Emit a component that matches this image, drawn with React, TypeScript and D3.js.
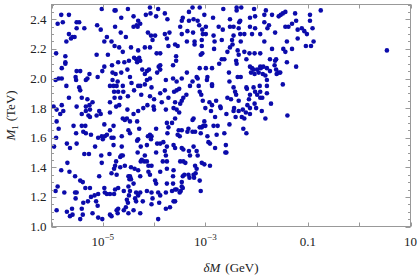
import * as d3 from 'd3';

// scan points: [log10(δM / GeV), M1 / TeV]
const scanLowDM: [number, number][] = [
  [-5.02, 2.47], [-4.77, 2.46], [-4.75, 2.46], [-4.51, 2.47], [-4.08, 2.48], [-3.92, 2.47], [-3.79, 2.44], [-5.81, 2.43], [-5.66, 2.43], [-4.64, 2.41],
  [-4.40, 2.42], [-4.16, 2.43], [-4.07, 2.44], [-3.96, 2.42], [-5.88, 2.37], [-5.78, 2.38], [-5.51, 2.38], [-5.46, 2.38], [-5.11, 2.36], [-5.04, 2.33],
  [-5.51, 2.34], [-5.36, 2.34], [-4.76, 2.35], [-4.65, 2.31], [-4.40, 2.35], [-4.31, 2.39], [-4.27, 2.37], [-4.34, 2.36], [-4.32, 2.35], [-3.74, 2.40],
  [-5.66, 2.30], [-5.55, 2.28], [-5.62, 2.27], [-5.59, 2.28], [-5.71, 2.25], [-4.92, 2.28], [-4.97, 2.25], [-4.83, 2.25], [-4.55, 2.28], [-4.12, 2.31],
  [-4.06, 2.29], [-3.98, 2.29], [-4.03, 2.26], [-3.79, 2.30], [-3.70, 2.31], [-3.75, 2.27], [-4.77, 2.22], [-4.68, 2.21], [-4.45, 2.21], [-4.61, 2.18],
  [-4.31, 2.19], [-4.18, 2.21], [-4.08, 2.21], [-3.72, 2.22], [-5.91, 2.17], [-5.73, 2.15], [-5.12, 2.16], [-4.90, 2.16], [-4.39, 2.14], [-4.35, 2.13],
  [-4.29, 2.14], [-4.27, 2.12], [-4.33, 2.11], [-3.95, 2.17], [-3.88, 2.17], [-4.49, 2.12], [-4.58, 2.11], [-4.70, 2.11], [-5.73, 2.11], [-5.73, 2.10],
  [-4.82, 2.09], [-5.80, 2.07], [-4.97, 2.08], [-3.91, 2.08], [-3.88, 2.09], [-3.88, 2.06], [-3.94, 2.04], [-4.52, 2.06], [-4.23, 2.06], [-4.14, 2.05],
  [-4.10, 2.06], [-4.18, 2.03], [-5.51, 2.05], [-5.44, 2.05], [-5.01, 2.05], [-5.26, 2.03], [-5.10, 2.01], [-4.81, 2.04], [-4.75, 2.03], [-4.64, 2.04],
  [-5.86, 2.00], [-5.80, 2.00], [-5.92, 1.99], [-5.53, 2.01], [-5.52, 1.99], [-5.33, 1.99], [-5.30, 2.00], [-4.81, 1.99], [-4.71, 1.98], [-4.47, 2.01],
  [-4.44, 1.97], [-4.14, 1.99], [-4.08, 2.00], [-3.77, 1.99], [-5.71, 1.95], [-5.46, 1.94], [-5.44, 1.92], [-4.86, 1.95], [-4.79, 1.95], [-4.73, 1.95],
  [-4.61, 1.95], [-4.31, 1.95], [-4.27, 1.95], [-4.39, 1.92], [-4.18, 1.96], [-4.78, 1.91], [-4.70, 1.91], [-4.60, 1.91], [-4.05, 1.94], [-3.79, 1.92],
  [-3.88, 1.90], [-5.66, 1.87], [-5.41, 1.87], [-5.30, 1.86], [-4.77, 1.87], [-4.66, 1.87], [-4.51, 1.88], [-4.25, 1.89], [-4.08, 1.88], [-4.00, 1.86],
  [-3.72, 1.87], [-5.51, 1.81], [-5.33, 1.81], [-5.20, 1.84], [-5.26, 1.82], [-4.74, 1.81], [-4.68, 1.82], [-4.86, 1.84], [-4.13, 1.82], [-3.85, 1.84],
  [-5.96, 1.81], [-5.80, 1.82], [-5.90, 1.79], [-5.77, 1.78], [-5.33, 1.78], [-5.25, 1.79], [-5.07, 1.78], [-4.52, 1.79], [-4.40, 1.76], [-4.31, 1.78],
  [-4.21, 1.80], [-4.01, 1.81], [-4.00, 1.79], [-3.77, 1.79], [-4.86, 1.77], [-5.83, 1.76],
  [-5.41, 1.76], [-5.28, 1.75], [-5.25, 1.74], [-5.12, 1.75], [-5.04, 1.76], [-4.61, 1.73], [-4.57, 1.72], [-4.53, 1.73], [-4.47, 1.71], [-5.90, 1.71],
  [-5.86, 1.66], [-5.57, 1.68], [-5.41, 1.68], [-5.34, 1.68], [-5.38, 1.64], [-5.33, 1.63], [-5.52, 1.63], [-5.23, 1.62], [-4.97, 1.69], [-4.79, 1.68],
  [-4.86, 1.65], [-5.09, 1.60], [-5.02, 1.61], [-5.00, 1.59], [-4.96, 1.61], [-4.92, 1.62], [-4.83, 1.60], [-4.79, 1.60], [-4.63, 1.61], [-4.33, 1.71],
  [-4.29, 1.66], [-4.50, 1.65], [-4.47, 1.63], [-4.31, 1.59], [-4.33, 1.58], [-4.08, 1.62], [-4.12, 1.61], [-4.05, 1.61], [-4.06, 1.59], [-3.96, 1.66],
  [-3.75, 1.70], [-3.72, 1.67], [-3.74, 1.63], [-5.91, 1.60], [-5.95, 1.54], [-5.70, 1.56], [-5.64, 1.53], [-5.51, 1.56], [-5.15, 1.54], [-4.79, 1.55],
  [-4.63, 1.54], [-4.26, 1.54], [-4.14, 1.55], [-3.94, 1.56], [-3.88, 1.56], [-3.82, 1.57], [-3.75, 1.54], [-3.79, 1.51], [-3.77, 1.48], [-3.75, 1.44],
  [-5.36, 1.49], [-5.27, 1.49], [-5.03, 1.48], [-4.87, 1.49], [-4.66, 1.47], [-4.64, 1.48], [-4.61, 1.48], [-4.32, 1.50], [-4.18, 1.48], [-3.96, 1.50],
  [-5.69, 1.43], [-5.02, 1.43], [-4.74, 1.44], [-4.76, 1.41], [-4.78, 1.39], [-4.57, 1.41], [-4.66, 1.40], [-4.45, 1.40], [-4.38, 1.39], [-4.24, 1.45],
  [-4.19, 1.44], [-4.14, 1.44], [-4.26, 1.44], [-4.11, 1.41], [-4.05, 1.41], [-3.83, 1.44], [-5.81, 1.38], [-5.65, 1.37], [-5.54, 1.34], [-5.44, 1.31],
  [-5.39, 1.30], [-5.07, 1.34], [-4.83, 1.36], [-4.73, 1.35], [-4.50, 1.34], [-4.47, 1.34], [-4.48, 1.32], [-4.45, 1.32], [-4.31, 1.38], [-4.27, 1.34],
  [-4.11, 1.37], [-4.08, 1.35], [-3.88, 1.37], [-3.75, 1.39], [-3.98, 1.31], [-3.96, 1.29], [-3.75, 1.29], [-3.77, 1.23], [-5.88, 1.27], [-5.92, 1.24],
  [-5.75, 1.23], [-5.54, 1.23], [-5.51, 1.23], [-5.34, 1.26], [-5.25, 1.26], [-5.53, 1.19], [-5.38, 1.16], [-5.23, 1.20], [-5.16, 1.21], [-5.13, 1.17],
  [-5.09, 1.22], [-4.97, 1.26], [-4.96, 1.23], [-4.92, 1.22], [-4.86, 1.22], [-4.78, 1.22], [-4.76, 1.25], [-4.70, 1.26], [-4.59, 1.24], [-4.50, 1.27],
  [-4.47, 1.24], [-4.49, 1.21], [-4.40, 1.29], [-4.35, 1.23], [-4.27, 1.23], [-4.14, 1.24], [-4.05, 1.23], [-3.92, 1.23], [-3.88, 1.21], [-5.29, 1.17],
  [-5.10, 1.14], [-4.53, 1.18], [-4.51, 1.16], [-4.37, 1.19], [-4.35, 1.17], [-4.31, 1.21], [-4.22, 1.17], [-4.03, 1.19], [-3.90, 1.16], [-5.90, 1.11],
  [-5.70, 1.10], [-5.60, 1.12], [-5.41, 1.12], [-5.39, 1.08], [-5.44, 1.05], [-5.59, 1.08], [-5.64, 1.07], [-5.20, 1.09], [-5.09, 1.06], [-5.01, 1.05],
  [-4.86, 1.08], [-4.83, 1.07], [-4.73, 1.11], [-4.70, 1.12], [-4.71, 1.09], [-4.59, 1.11], [-4.55, 1.13], [-4.50, 1.09], [-4.40, 1.11], [-4.27, 1.09],
  [-4.05, 1.15], [-3.92, 1.05], [-3.77, 1.12],
];

const scanHighDM: [number, number][] = [
  [-3.25, 2.48], [-3.11, 2.48], [-2.65, 2.47], [-2.39, 2.48], [-2.30, 2.48], [-2.39, 2.46], [-2.05, 2.47], [-1.82, 2.46], [-1.85, 2.43], [-1.70, 2.43],
  [-1.57, 2.42], [-1.53, 2.43], [-1.49, 2.44], [-1.44, 2.45], [-3.32, 2.45], [-3.44, 2.41], [-3.46, 2.39], [-3.02, 2.43], [-2.85, 2.41], [-2.52, 2.40],
  [-2.34, 2.38], [-2.32, 2.39], [-2.13, 2.41], [-2.03, 2.42], [-1.85, 2.38], [-1.76, 2.36], [-1.38, 2.35], [-1.44, 2.35], [-3.49, 2.35], [-3.32, 2.39],
  [-3.23, 2.40], [-3.15, 2.39], [-3.12, 2.36], [-2.99, 2.35], [-3.06, 2.33], [-2.74, 2.35], [-2.52, 2.35], [-2.45, 2.35], [-2.66, 2.33], [-2.35, 2.34],
  [-2.32, 2.30], [-2.13, 2.35], [-2.09, 2.30], [-1.93, 2.30], [-2.03, 2.34], [-1.64, 2.31], [-1.79, 2.34], [-3.46, 2.30], [-3.35, 2.32], [-3.24, 2.31],
  [-3.05, 2.30], [-2.99, 2.30], [-2.84, 2.29], [-2.45, 2.29], [-2.24, 2.30], [-3.36, 2.25], [-3.21, 2.25], [-3.21, 2.23], [-3.07, 2.26], [-2.68, 2.26],
  [-2.48, 2.26], [-2.47, 2.23], [-1.85, 2.25], [-1.41, 2.25], [-3.59, 2.23], [-3.54, 2.22], [-3.07, 2.22], [-2.82, 2.25], [-2.31, 2.25], [-2.83, 2.20],
  [-2.57, 2.18], [-2.52, 2.21], [-2.37, 2.19], [-2.35, 2.16], [-2.24, 2.18], [-2.14, 2.17], [-2.04, 2.17], [-1.93, 2.17], [-1.48, 2.20], [-1.44, 2.18],
  [-1.70, 2.20], [-3.57, 2.15], [-3.57, 2.12], [-3.06, 2.17], [-3.09, 2.16], [-2.68, 2.13], [-2.63, 2.13], [-2.40, 2.12], [-2.39, 2.10], [-2.20, 2.13],
  [-1.74, 2.13], [-1.62, 2.13], [-1.64, 2.12], [-1.41, 2.11], [-3.63, 2.09], [-2.73, 2.10], [-3.11, 2.07], [-2.99, 2.07], [-2.87, 2.07], [-2.54, 2.04],
  [-2.13, 2.08], [-2.09, 2.07], [-2.06, 2.06], [-2.11, 2.04], [-2.04, 2.03], [-1.99, 2.06], [-1.93, 2.08], [-1.96, 2.04], [-1.92, 2.07], [-1.87, 2.08],
  [-1.80, 2.07], [-1.88, 2.03], [-1.83, 2.02], [-1.74, 2.05], [-1.65, 2.09], [-1.62, 2.06], [-1.57, 2.04], [-1.61, 2.03], [-1.54, 2.04], [-3.36, 2.04],
  [-3.46, 2.00], [-3.63, 2.00], [-3.17, 2.01], [-3.15, 2.00], [-2.96, 2.01], [-2.97, 1.99], [-2.37, 2.01], [-2.31, 2.01], [-2.53, 1.98], [-1.80, 1.99],
  [-3.56, 1.98], [-3.25, 1.98], [-3.30, 1.95], [-3.13, 1.95], [-2.87, 1.96], [-2.45, 1.94], [-2.20, 1.94], [-2.06, 1.94], [-1.94, 1.95], [-1.80, 1.95],
  [-1.49, 1.96], [-3.56, 1.92], [-3.61, 1.91], [-3.51, 1.93], [-3.11, 1.91], [-2.87, 1.95], [-2.19, 1.93], [-2.03, 1.91], [-1.93, 1.91], [-3.37, 1.89],
  [-3.08, 1.89], [-2.42, 1.91], [-2.40, 1.89], [-2.13, 1.89], [-1.99, 1.89], [-1.93, 1.87], [-1.80, 1.90], [-3.43, 1.87], [-3.46, 1.85], [-3.49, 1.83],
  [-3.05, 1.85], [-2.57, 1.87], [-2.50, 1.86], [-2.35, 1.85], [-2.15, 1.86], [-2.04, 1.83], [-1.89, 1.87], [-3.59, 1.84], [-2.92, 1.84], [-2.87, 1.82],
  [-2.79, 1.85], [-2.18, 1.82], [-1.72, 1.83], [-3.62, 1.80], [-3.56, 1.79], [-3.00, 1.80], [-2.71, 1.81], [-2.70, 1.80], [-2.44, 1.80], [-2.45, 1.78],
  [-2.27, 1.79], [-2.13, 1.80], [-2.01, 1.80], [-1.90, 1.78], [-3.51, 1.77], [-2.89, 1.78], [-2.35, 1.78], [-2.21, 1.77],
  [-1.25, 2.44], [-1.23, 2.39], [-1.31, 2.37], [-1.20, 2.33], [-1.31, 2.20], [-1.20, 2.27], [-1.23, 2.08], [-0.96, 2.43], [-0.96, 2.39], [-0.91, 2.34],
  [-1.12, 2.34], [-1.07, 2.32], [-1.02, 2.30], [-0.75, 2.46], [-1.04, 2.22], [-0.94, 2.22], [-0.89, 2.25], [0.54, 2.19],
  [-3.59, 1.73], [-3.65, 1.70], [-3.23, 1.73], [-3.25, 1.72], [-3.02, 1.71], [-3.04, 1.68], [-3.07, 1.67], [-3.11, 1.67], [-3.00, 1.68], [-2.81, 1.74],
  [-2.84, 1.68], [-2.76, 1.68], [-2.59, 1.76], [-2.53, 1.69], [-2.41, 1.74], [-2.29, 1.74], [-2.24, 1.73], [-2.13, 1.76], [-1.83, 1.73], [-1.40, 1.75],
  [-3.52, 1.65], [-3.46, 1.65], [-3.54, 1.62], [-3.50, 1.61], [-3.33, 1.66], [-3.35, 1.64], [-3.25, 1.64], [-3.20, 1.64], [-3.09, 1.63], [-2.96, 1.61],
  [-2.78, 1.62], [-2.63, 1.63], [-2.26, 1.66], [-2.20, 1.63], [-3.62, 1.55], [-3.59, 1.53], [-3.46, 1.53], [-3.43, 1.52], [-3.32, 1.51], [-3.30, 1.48],
  [-3.23, 1.54], [-3.17, 1.51], [-3.15, 1.48], [-2.94, 1.57], [-2.91, 1.56], [-2.81, 1.53], [-2.60, 1.55], [-2.61, 1.50], [-2.59, 1.50], [-3.49, 1.44],
  [-3.43, 1.44], [-3.39, 1.43], [-3.20, 1.41], [-3.17, 1.39], [-3.19, 1.36], [-3.07, 1.43], [-3.02, 1.42], [-2.91, 1.41], [-3.62, 1.38], [-3.63, 1.34],
  [-3.44, 1.34], [-3.41, 1.35], [-3.33, 1.35], [-3.31, 1.33], [-3.23, 1.35], [-3.22, 1.33], [-3.11, 1.31], [-3.63, 1.29], [-3.46, 1.30], [-3.46, 1.27],
  [-3.44, 1.26], [-3.48, 1.24], [-3.50, 1.23], [-3.65, 1.24], [-3.59, 1.25], [-3.56, 1.25], [-3.09, 1.24], [-3.62, 1.17], [-3.59, 1.17], [-3.69, 1.13],
];

const yMajorTicks = [1.0, 1.2, 1.4, 1.6, 1.8, 2.0, 2.2, 2.4];
const yTickLabels = ['1.0', '1.2', '1.4', '1.6', '1.8', '2.0', '2.2', '2.4'];
const xDecades = [-6, -5, -4, -3, -2, -1, 0, 1];
const xLabelExps = [-5, -3, -1, 1];
const xTickLabels = [{ base: '10', sup: '−5' }, { base: '10', sup: '−3' }, { base: '0.1', sup: '' }, { base: '10', sup: '' }];

const W = 420;
const H = 280;
const left = 51.5, right = 410.5, top = 4.5, bottom = 226.5;
const font = '"Liberation Serif", "Times New Roman", serif';
const frameColor = '#999';
const dotColor = '#0b0bab';

const App = () => {
  const x = d3.scaleLog().domain([1e-6, 10]).range([left, right]);
  const y = d3.scaleLinear().domain([1.0, 2.5]).range([bottom, top]);
  const points = [...scanLowDM, ...scanHighDM];
  const yMinor = d3.range(1.0, 2.5001, 0.05).map(v => +v.toFixed(2));

  return (
    <svg width={W} height={H} style={{ position: 'absolute', left: 0, top: 0, background: '#fff' }} fontFamily={font}>
      {/* points */}
      <g fill={dotColor}>
        {points.map(([lx, m], i) => (
          <circle key={i} cx={x(Math.pow(10, lx))} cy={y(m)} r={2.3} />
        ))}
      </g>

      {/* frame */}
      <rect x={left} y={top} width={right - left} height={bottom - top} fill="none" stroke={frameColor} strokeWidth={1} />

      {/* ticks, all four sides, pointing in */}
      <g stroke={frameColor} strokeWidth={1}>
        {yMinor.map(v => {
          const major = Math.abs(v * 5 - Math.round(v * 5)) < 1e-6;
          const len = major ? 5 : 2.5;
          const yy = Math.round(y(v)) + 0.5;
          return (
            <g key={v}>
              <line x1={left} x2={left + len} y1={yy} y2={yy} />
              <line x1={right} x2={right - len} y1={yy} y2={yy} />
            </g>
          );
        })}
        {xDecades.map(e => {
          const xx = Math.round(x(Math.pow(10, e))) + 0.5;
          return (
            <g key={e}>
              <line x1={xx} x2={xx} y1={bottom} y2={bottom - 4} />
              <line x1={xx} x2={xx} y1={top} y2={top + 4} />
            </g>
          );
        })}
      </g>

      {/* y tick labels */}
      <g fontSize={13} fill="#222" textAnchor="end">
        {yMajorTicks.map((v, i) => (
          <text key={v} x={left - 5} y={y(v)} dy="0.35em">{yTickLabels[i]}</text>
        ))}
      </g>

      {/* x tick labels */}
      <g fontSize={13} fill="#222" textAnchor="middle">
        {xLabelExps.map((e, i) => (
          <text key={e} x={x(Math.pow(10, e))} y={246}>
            {xTickLabels[i].base}
            {xTickLabels[i].sup && <tspan dy={-6} fontSize={9}>{xTickLabels[i].sup}</tspan>}
          </text>
        ))}
      </g>

      {/* axis titles */}
      <text x={(left + right) / 2} y={272} fontSize={13} fill="#222" textAnchor="middle">
        <tspan fontStyle="italic">δM</tspan>
        <tspan dx={5}>(GeV)</tspan>
      </text>
      <text transform={`translate(15,${(top + bottom) / 2}) rotate(-90)`} fontSize={13} fill="#222" textAnchor="middle">
        <tspan fontStyle="italic">M</tspan>
        <tspan dy={3} fontSize={9}>1</tspan>
        <tspan dy={-3} dx={4}>(TeV)</tspan>
      </text>
    </svg>
  );
};

export default App;
